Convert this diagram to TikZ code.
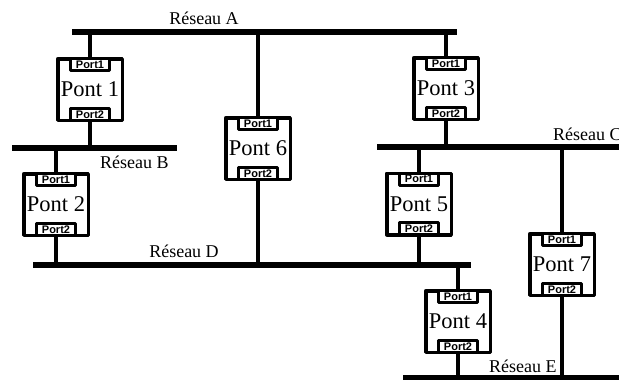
\documentclass[tikz,border=0pt]{standalone}
\usepackage{fontspec}
\setmainfont{Liberation Serif}
\setsansfont{Liberation Sans}
\usetikzlibrary{positioning}

\begin{document}
\begin{tikzpicture}[x=1pt,y=-1pt,
  bus/.style={line width=6pt},
  lien/.style={line width=3.5pt},
  pontbox/.style={draw, line width=3.5pt, line join=round, minimum width=64.5pt, minimum height=61.5pt, inner sep=0pt, font=\fontsize{22.5}{22.5}\selectfont},
  portbox/.style={draw, fill=white, line width=3pt, line join=round, minimum width=39pt, minimum height=12pt, inner sep=0pt, font=\fontsize{11}{11}\selectfont\sffamily\bfseries},
  reseau/.style={font=\fontsize{18}{18}\selectfont, inner sep=0pt}]
\useasboundingbox (0,0) rectangle (619,380);
% Reseaux
\coordinate (A1) at (72,32);   \coordinate (A2) at (457,32);
\coordinate (B1) at (12,148);  \coordinate (B2) at (177,148);
\coordinate (C1) at (377,147); \coordinate (C2) at (625,147);
\coordinate (D1) at (33,265);  \coordinate (D2) at (471,265);
\coordinate (E1) at (403,378); \coordinate (E2) at (625,378);
\foreach \r in {A,B,C,D,E} {
  \draw[bus] (\r1) -- (\r2);
}
% Ponts avec leurs ports
\foreach \n/\x/\y in {1/90/89.5, 2/56/204.5, 3/446/88.5, 4/458/321.5, 5/419/204, 6/258/148.5, 7/562/264.5} {
  \node[pontbox] (p\n) at (\x,\y) {Pont \n};
  \node[portbox, below=0.25pt of p\n.north] (pa\n) {Port1};
  \node[portbox, above=0.25pt of p\n.south] (pb\n) {Port2};
}
% Liaisons
\foreach \n/\h/\b in {1/A/B, 2/B/D, 3/A/C, 4/D/E, 5/C/D, 6/A/D, 7/C/E} {
  \draw[lien] (pa\n.north) -- (pa\n.north |- \h1);
  \draw[lien] (pb\n.south) -- (pb\n.south |- \b1);
}
% Noms des reseaux
\node[reseau, anchor=base] (lA) at (204,24) {Réseau A};
\node[reseau, anchor=base west] (lB) at (100,168) {Réseau B};
\node[reseau, anchor=base west] (lC) at (553,140) {Réseau C};
\node[reseau, anchor=base] (lD) at (184,257) {Réseau D};
\node[reseau, anchor=base west] (lE) at (489,372) {Réseau E};
\end{tikzpicture}
\end{document}
